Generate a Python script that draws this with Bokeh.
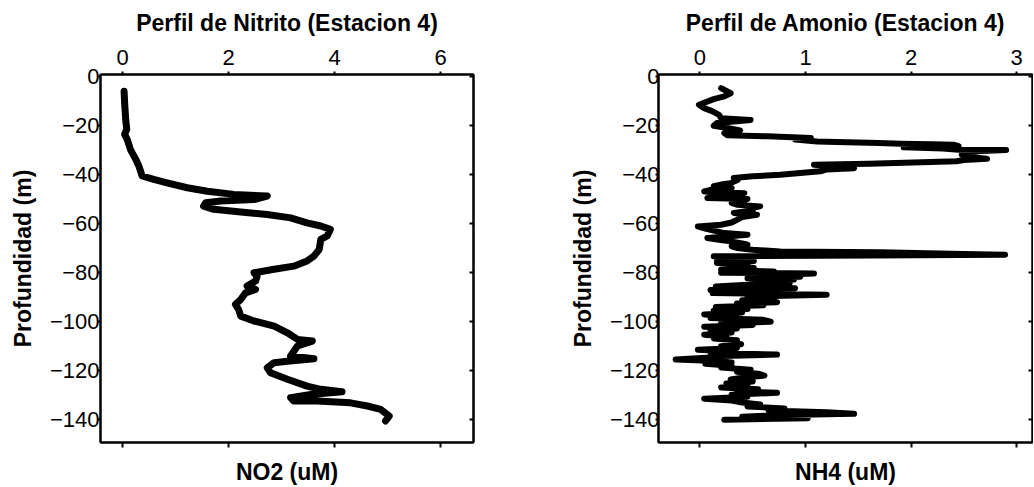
from bokeh.plotting import figure
from bokeh.models import LinearAxis, FixedTicker, CustomJSTickFormatter, Range1d
from bokeh.layouts import row
from bokeh.embed import file_html
from bokeh.resources import INLINE

# ---------------- data ----------------
no2_um = [0.03, 0.04, 0.06, 0.08, 0.04, 0.09, 0.15, 0.25, 0.31, 0.34, 0.37, 0.59, 0.84,
          1.22, 1.60, 2.10, 2.73, 2.48, 1.85, 1.57, 1.53, 1.72, 2.23, 2.73, 3.17, 3.48,
          3.74, 3.92, 3.86, 3.74, 3.71, 3.61, 3.48, 3.23, 2.86, 2.48, 2.54, 2.51, 2.35,
          2.51, 2.32, 2.23, 2.13, 2.19, 2.23, 2.48, 2.86, 3.11, 3.30, 3.58, 3.30, 3.17,
          3.61, 3.11, 2.86, 2.73, 2.79, 3.11, 3.48, 3.74, 4.14, 3.55, 3.17, 3.23, 3.67,
          4.30, 4.62, 4.87, 5.03, 4.96]
no2_depth = [-5.9, -10.6, -17.4, -21.5, -23.5, -25.6, -29.7, -33.7, -36.5, -38.5, -40.5,
             -41.9, -43.3, -45.3, -46.7, -48.0, -48.7, -50.1, -50.7, -51.4, -52.8, -54.1,
             -55.2, -56.2, -57.6, -59.6, -60.9, -62.3, -65.0, -66.4, -70.5, -73.2, -75.2,
             -77.3, -78.6, -80.0, -81.4, -83.4, -85.4, -86.8, -88.2, -90.9, -92.9, -95.0,
             -97.7, -99.7, -101.8, -104.5, -107.2, -107.9, -109.9, -114.0, -115.1, -116.1,
             -116.7, -118.8, -120.8, -123.5, -126.3, -127.6, -128.6, -129.7, -131.0,
             -132.4, -132.4, -133.1, -134.4, -135.8, -138.5, -140.5]

nh4_um = [0.20, 0.29, 0.23, 0.13, -0.01, 0.04, 0.12, 0.18, 0.20, 0.48, 0.16, 0.13, 0.26,
          0.38, 0.23, 0.26,
          0.64, 1.05, 0.90, 1.11, 1.39, 1.70, 1.90, 2.20, 2.40, 2.45, 1.93, 2.30, 2.45,
          2.90, 2.50, 2.60, 2.48, 2.55, 2.72, 2.50, 2.43, 2.02, 1.60, 1.08, 1.30, 1.46,
          1.20, 1.14, 0.95, 0.76, 0.50, 0.32,
          0.36, 0.29, 0.20, 0.13, 0.30, 0.10, 0.04, 0.42, 0.30, 0.15, 0.07, 0.45, 0.40,
          0.30, 0.35, 0.57, 0.45, 0.50, 0.32, 0.54, 0.40, 0.35, 0.30, 0.20, -0.02, 0.05,
          0.16, 0.23, 0.45, 0.25, 0.07, 0.18, 0.29, 0.40, 0.45, 0.30, 0.35, 0.50, 0.76,
          1.71, 2.50, 2.89, 1.64, 0.13,
          0.40, 0.16, 0.51, 0.16, 0.45, 0.32, 0.51, 0.20, 0.70, 0.20, 1.08, 0.60, 0.95,
          0.45, 0.89, 0.50, 0.85, 0.45, 0.15, 0.90, 0.10, 0.60, 0.12, 1.20, 0.45, 0.70,
          0.40, 0.73, 0.35, 0.60, 0.15, 0.45, 0.13, 0.40, 0.04, 0.35, 0.10, 0.60, 0.67,
          0.20, 0.50, 0.04, 0.35, 0.10, 0.30, 0.04, 0.25, 0.13, 0.35, 0.29, 0.39, 0.20,
          0.35, -0.02, 0.30, 0.10, 0.73, 0.20, 0.10, -0.23, 0.15, 0.30, 0.05, 0.30, 0.20,
          0.48, 0.35, 0.55, 0.61, 0.40, 0.29, 0.50, 0.25, 0.45, 0.20, 0.55, 0.35, 0.73,
          0.30, 0.45, 0.04, 0.30, 0.40, 0.57, 0.45, 0.80, 0.65, 1.20, 1.46, 0.70, 0.40,
          1.02, 0.23]
nh4_depth = [-4.6, -6.7, -8.0, -9.1, -11.4, -12.8, -14.1, -15.5, -16.9, -17.6, -18.9,
             -20.0, -20.9, -21.9, -23.0, -23.9,
             -24.3, -25.0, -25.6, -26.4, -26.7, -27.0, -27.3, -27.5, -27.7, -28.3, -28.8,
             -29.3, -29.8, -29.9, -30.6, -31.2, -31.8, -32.5, -33.5, -34.0, -34.5, -35.0,
             -35.5, -35.9, -36.5, -37.3, -37.8, -38.6, -39.3, -40.0, -40.6, -41.3,
             -42.0, -43.4, -44.0, -44.7, -45.5, -46.2, -46.8, -47.5, -48.2, -48.8, -49.5,
             -49.9, -50.8, -51.5, -52.2, -52.9, -53.8, -54.6, -55.6, -56.3, -57.2, -58.4,
             -59.5, -60.4, -61.1, -62.0, -63.1, -63.8, -64.5, -65.2, -65.8, -66.5, -67.2,
             -68.0, -68.5, -69.2, -69.9, -70.6, -71.3,
             -71.6, -72.3, -72.6, -73.0, -73.3,
             -73.8, -74.5, -75.2, -76.0, -76.8, -77.4, -78.1, -78.8, -79.5, -80.0, -80.3,
             -81.0, -81.6, -82.2, -82.8, -83.5, -84.2, -84.9, -85.6, -86.3, -87.0, -87.6,
             -88.3, -89.0, -89.7, -90.5, -91.2, -92.0, -92.6, -93.3, -94.0, -94.8, -95.5,
             -96.2, -97.0, -97.8, -98.5, -99.2, -100.0, -100.6, -101.3, -102.0, -102.8,
             -103.6, -104.4, -105.3, -106.0, -106.8, -107.6, -108.4, -109.2, -110.0,
             -110.7, -111.4, -112.0, -112.7, -113.4, -114.0, -114.6, -115.4, -116.0,
             -116.6, -117.2, -118.0, -118.7, -119.6, -120.4, -121.2, -122.0, -122.8,
             -123.6, -124.4, -125.2, -126.0, -126.8, -127.6, -128.4, -129.0, -129.8,
             -130.6, -131.4, -132.2, -133.0, -133.8, -134.6, -135.4, -136.2, -137.0,
             -137.6, -138.2, -138.8, -139.4, -140.0]

depth_ticks = [0, -20, -40, -60, -80, -100, -120, -140]
no2_ticks = [0, 2, 4, 6]
nh4_ticks = [0, 1, 2, 3]

FONT = "Liberation Sans"
minus_fmt = "return tick < 0 ? '\\u2212' + Math.abs(tick) : '' + tick;"


def panel(xs, ys, xticks, xr, yr, title, xlabel, width, height,
          bl, br, bt, bb, lw, tick_std, title_std, ytick_std, ylab_std, xlab_std):
    p = figure(width=width, height=height, x_range=Range1d(*xr), y_range=Range1d(*yr),
               x_axis_location="above", toolbar_location=None, output_backend="svg",
               min_border_left=bl, min_border_right=br, min_border_top=bt,
               min_border_bottom=bb)
    p.grid.visible = False
    p.outline_line_color = "black"
    p.outline_line_width = 2
    p.outline_line_alpha = 1.0
    p.background_fill_color = "white"
    p.border_fill_color = "white"

    p.line(xs, ys, line_width=lw, color="black", line_join="round", line_cap="round")

    top = p.xaxis[0]
    top.ticker = FixedTicker(ticks=xticks)
    top.axis_label = title
    top.axis_label_text_font = FONT
    top.axis_label_text_font_size = "23px"
    top.axis_label_text_font_style = "bold"
    top.axis_label_text_color = "black"
    top.axis_label_standoff = title_std
    top.major_label_text_font = FONT
    top.major_label_text_font_size = "22px"
    top.major_label_text_color = "black"
    top.major_label_standoff = tick_std
    top.major_tick_out = 3
    top.major_tick_in = 0
    top.minor_tick_line_color = None
    top.axis_line_width = 2
    top.major_tick_line_width = 2

    left = p.yaxis[0]
    left.ticker = FixedTicker(ticks=depth_ticks)
    left.formatter = CustomJSTickFormatter(code=minus_fmt)
    left.axis_label = "Profundidad (m)"
    left.axis_label_text_font = FONT
    left.axis_label_text_font_size = "23px"
    left.axis_label_text_font_style = "bold"
    left.axis_label_text_color = "black"
    left.axis_label_standoff = ylab_std
    left.major_label_text_font = FONT
    left.major_label_text_font_size = "22px"
    left.major_label_text_color = "black"
    left.major_label_standoff = ytick_std
    left.major_tick_out = 3
    left.major_tick_in = 0
    left.minor_tick_line_color = None
    left.axis_line_width = 2
    left.major_tick_line_width = 2

    bottom = LinearAxis(ticker=FixedTicker(ticks=xticks), axis_label=xlabel,
                        axis_label_text_font=FONT, axis_label_text_font_size="23px",
                        axis_label_text_font_style="bold", axis_label_text_color="black",
                        axis_label_standoff=xlab_std, major_label_text_font_size="0px",
                        major_label_text_color=None,
                        major_label_standoff=0, major_tick_out=5, major_tick_in=0,
                        minor_tick_line_color=None, axis_line_width=2,
                        major_tick_line_width=2)
    p.add_layout(bottom, "below")

    right = LinearAxis(ticker=FixedTicker(ticks=depth_ticks), major_label_text_font_size="0px",
                       major_label_text_color=None,
                       major_label_standoff=0, major_tick_out=0, major_tick_in=4,
                       minor_tick_line_color=None, axis_line_width=2,
                       major_tick_line_width=2)
    p.add_layout(right, "right")
    return p


depth_range = (-149.3, 0.94)

p1 = panel(no2_um, no2_depth, no2_ticks, (-0.415, 6.62), depth_range,
           "Perfil de Nitrito (Estacion 4)", "NO2 (uM)",
           560, 487, 100, 87, 74, 45, 7,
           7, 11, -2, 11, 11)
p2 = panel(nh4_um, nh4_depth, nh4_ticks, (-0.393, 3.15), depth_range,
           "Perfil de Amonio (Estacion 4)", "NH4 (uM)",
           473, 487, 98, 1, 74, 45, 6,
           7, 11, -4, 11, 11)

layout = row(p1, p2)
open("out.html", "w", encoding="utf-8").write(file_html(layout, INLINE))
